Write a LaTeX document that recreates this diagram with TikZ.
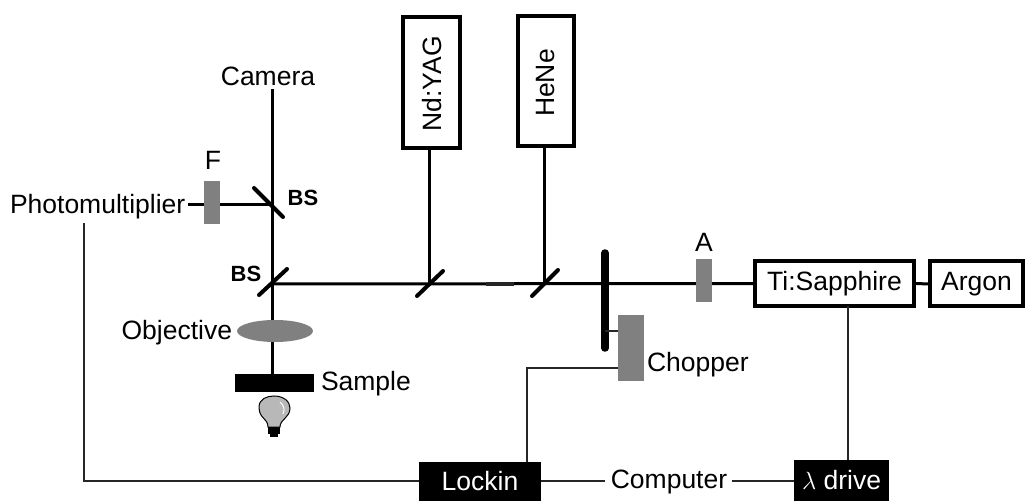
\documentclass[tikz,border=0pt]{standalone}
\usepackage{fontspec}
\setmainfont{Liberation Sans}
\usetikzlibrary{calc,shapes.geometric,backgrounds}
\definecolor{optgrey}{gray}{0.5}
\tikzset{
  x=1pt,y=-1pt,
  every node/.style={font=\fontsize{26.5}{30}\selectfont,inner sep=0pt,outer sep=0pt,text=black},
  beam/.style={line width=3pt,black},
  thinwire/.style={line width=1.2pt,black!85},
  mirror/.style={line width=4pt,black,line cap=round},
  laser/.style={draw=black,line width=4pt,fill=white},
  optic/.style={fill=optgrey,draw=none},
  blackbox/.style={fill=black,draw=none,text=white},
  bslabel/.style={font=\bfseries\fontsize{22}{26}\selectfont}
}
\begin{document}
\begin{tikzpicture}
\useasboundingbox (0,0) rectangle (1030,502);
% junction coordinates
\coordinate (camtop) at (272,89);
\coordinate (bs1) at (272,205);
\coordinate (bs2) at (272,284);
\coordinate (m1) at (429,284);
\coordinate (m2) at (544,284);
\coordinate (wheeltap) at (605,331);
\coordinate (wirecorner) at (527,368);
\coordinate (pmtdown) at (84,223);
\coordinate (pmtcorner) at (84,481);
\coordinate (tidrive) at (848,400);
\coordinate (pmtend) at (188,205);
\coordinate (compw) at (605,481);
\coordinate (compe) at (732,481);
% nodes
\node (camera) at (268,76) {Camera};
\node[anchor=west] (pmt) at (10,207) {Photomultiplier};
\node (Ftext) at (213,160) {F};
\node (Atext) at (704,242) {A};
\node[optic,minimum width=16pt,minimum height=43pt] (F) at (212,202.5) {};
\node[optic,minimum width=16pt,minimum height=43pt] (A) at (704,280.5) {};
\node[optic,ellipse,minimum width=76pt,minimum height=22pt] (obj) at (275,331) {};
\node[anchor=east] (objtext) at (232,333) {Objective};
\node[blackbox,minimum width=79pt,minimum height=18pt] (sample) at (274.5,383) {};
\node[anchor=west] (sampletext) at (321,384) {Sample};
\node[optic,minimum width=26pt,minimum height=66pt] (chopper) at (631,348) {};
\node[anchor=west] (choppertext) at (647,365) {Chopper};
\node[laser,minimum width=57pt,minimum height=131pt] (yag) at (431.5,82.5) {};
\node[rotate=90] (yagtext) at (432.5,84) {Nd:YAG};
\node[laser,minimum width=56pt,minimum height=130pt] (hene) at (546,81) {};
\node[rotate=90] (henetext) at (546,83) {HeNe};
\node[laser,minimum width=159pt,minimum height=45pt] (ti) at (834.5,283.5) {\raisebox{-1.5pt}{Ti:Sapphire}};
\node[laser,minimum width=93pt,minimum height=45pt,anchor=west] (argon) at (930,284) {\raisebox{-2pt}{Argon}};
\node[blackbox,minimum width=122pt,minimum height=39pt] (lockin) at (480,481.5) {Lockin};
\node[blackbox,minimum width=95pt,minimum height=41pt] (drive) at (841.5,480.5) {$\lambda$ drive};
\node (computer) at (669,482) {Computer};
\node[bslabel] (bsa) at (303,198) {BS};
\node[bslabel] (bsb) at (246,274) {BS};
% thick beams, behind the optics
\begin{scope}[on background layer]
\draw[beam] (camtop) -- (bs1) -- (bs2) -- (sample.north -| bs2);
\draw[beam] (pmtend) -- (bs1);
\draw[beam] (bs2) -- (ti.west);
\draw[beam] (ti.east) -- (argon.west);
\draw[beam] (yag.south -| m1) -- (m1);
\draw[beam] (hene.south -| m2) -- (m2);
\end{scope}
\draw[line width=3.6pt,black!85] (486,284) -- (514,284);
% mirrors
\draw[mirror] (254,188) -- (283,217);
\draw[mirror] (259,295) -- (287,269);
\draw[mirror] (417,296) -- (443,271);
\draw[mirror] (532,296) -- (558,270);
\draw[line width=7.5pt,line cap=round,black] (605,253) -- (605,348);
% thin wires
\draw[thinwire] (wheeltap) -- (chopper.west |- wheeltap);
\draw[thinwire] (chopper.west |- wirecorner) -- (wirecorner) -- (wirecorner |- lockin.north);
\draw[thinwire] (pmtdown) -- (pmtcorner) -- (lockin.west |- pmtcorner);
\draw[thinwire] (lockin.east |- compw) -- (compw);
\draw[thinwire] (compe) -- (drive.west |- compe);
\draw[thinwire] (tidrive |- ti.south) -- (tidrive |- drive.north);
% bulb
\draw[line width=1pt,fill=black!28] (268,427) .. controls (268,418) and (259,419) .. (259,407)
  .. controls (259,399) and (267,396) .. (274,396)
  .. controls (283,396) and (290,401) .. (290,408)
  .. controls (290,418) and (280,419) .. (280,427) -- cycle;
\draw[line width=1pt,white] (280,402) .. controls (284,405) and (285,410) .. (283,414);
\fill[black] (268,427) rectangle (280,434);
\fill[black] (270,434) rectangle (278,437);
\end{tikzpicture}
\end{document}
